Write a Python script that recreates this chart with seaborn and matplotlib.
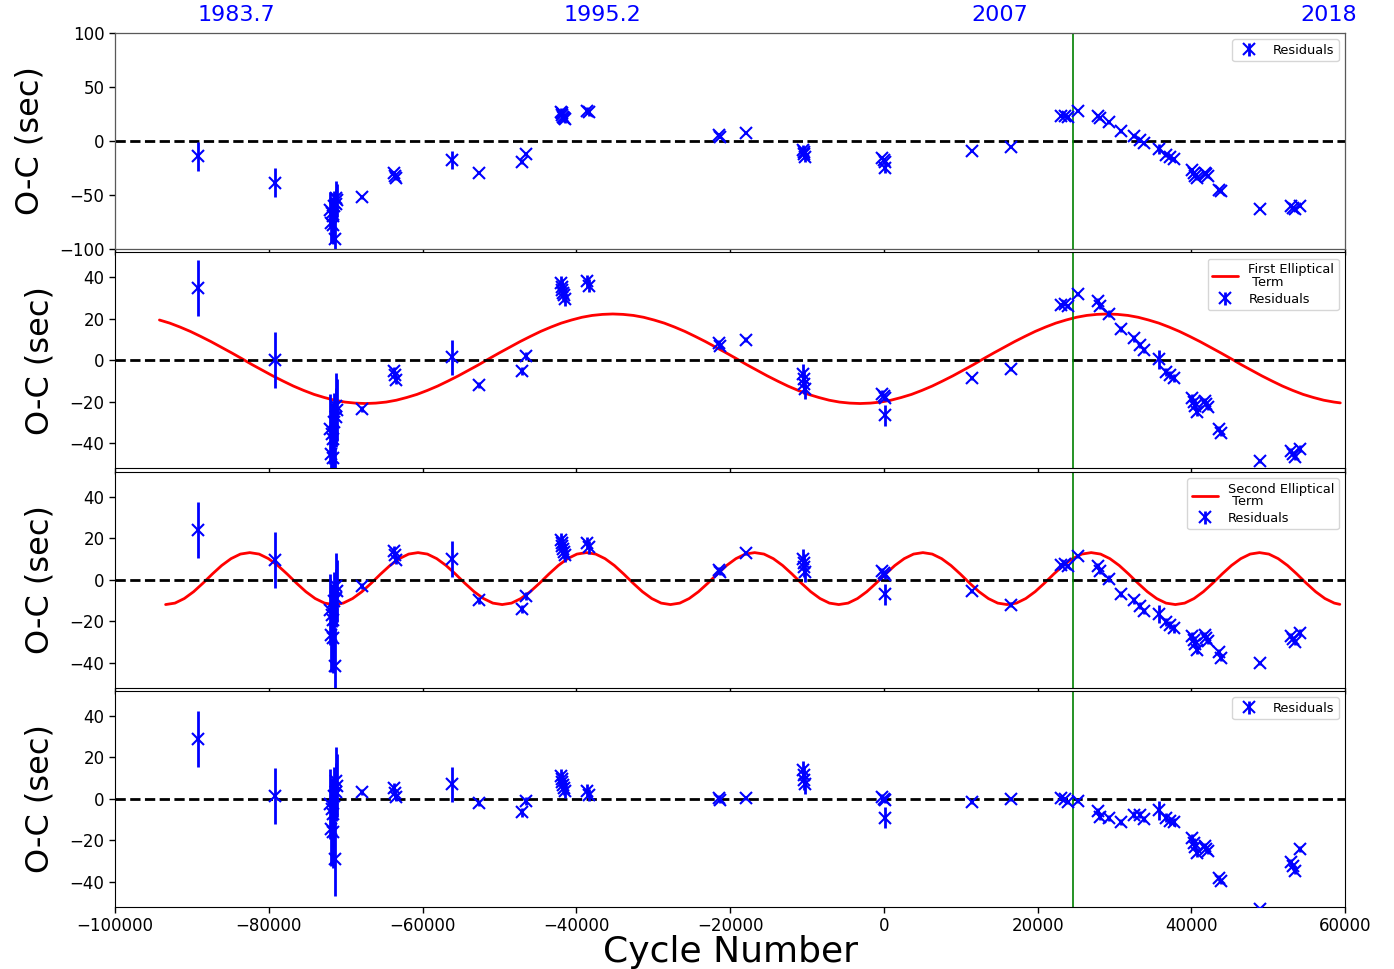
import numpy as np
import pandas as pd
import seaborn as sns
import matplotlib
matplotlib.use('Agg')
import matplotlib.pyplot as plt

# cycle numbers of the timings
cycle = [-89200, -79200,
         -72000, -71900, -71800, -71700, -71600, -71500, -71400, -71300, -71200, -71100,
         -67900, -63700, -63600, -63500, -56200, -52600, -47100, -46500,
         -42000, -41900, -41800, -41700, -41600, -41500, -38600, -38400,
         -21500, -21300, -17950, -10500, -10400, -10350, -10300,
         -200, 0, 100, 200, 11450, 16520,
         23000, 23500, 24000, 25300, 27800, 28100, 29270, 30900, 32580, 33300, 33800,
         35840, 36700, 37200, 37700, 40100, 40300, 40500, 40700, 41700, 41900, 42100,
         43600, 43900, 48880, 52900, 53200, 53500, 54140]

# O-C residuals (sec), one list per panel
oc_raw = [-14, -38.5,
          -64, -76, -66.5, -69, -78, -60.5, -91, -58.5, -53, -55,
          -52, -30, -32, -34, -17.5, -29.5, -19, -12,
          27, 25.5, 24, 22.5, 21.5, 20, 28, 26.5,
          6, 4, 7.5, -8, -10, -12.5, -14.5,
          -15.5, -17.5, -19, -25, -9, -5.5,
          23, 23.5, 22.5, 28, 23, 21, 17.5, 9, 4.5, 1, -1.5,
          -7.5, -13, -15, -16.5, -27, -30, -32, -34, -29.5, -31, -32.5,
          -45, -46.5, -63, -60.5, -62, -63, -60]

oc_res1 = [35, 0,
           -33, -45, -35.5, -38, -47, -29.5, -60, -27.5, -22, -24,
           -23.5, -5, -7, -9.5, 1.5, -12, -5, 2,
           37, 35.5, 34, 32.5, 31.5, 29.5, 38, 36,
           8.5, 7, 10, -6.5, -9, -11.5, -14,
           -16, -17, -18, -26.5, -8.5, -4.3,
           26.5, 27, 26, 32, 28.5, 26, 22.5, 15, 10.5, 7.5, 5,
           0.5, -5.5, -7, -8.5, -18, -20, -22, -25, -19.5, -21, -22.5,
           -33, -35, -48.5, -43.5, -45, -46.5, -42.5]

oc_res2 = [24, 9.5,
           -14.5, -26.5, -17, -19.5, -28, -10.5, -41.5, -9, -3, -5.5,
           -3, 14, 12, 9.5, 10, -10, -14, -8,
           19, 17.5, 16, 14.5, 13.5, 12, 17.5, 15.5,
           4.5, 3.5, 13, 10, 8, 6, 3.5,
           4, 3, 2, -7, -5.5, -12,
           7, 7.5, 6.5, 11.5, 6.5, 4, 0.5, -7, -10, -12.5, -15,
           -16.5, -20.5, -22, -23.5, -27, -29, -31, -34, -26.5, -28, -29.5,
           -35, -37.5, -40, -27, -28.5, -30, -25.5]

oc_res3 = [29, 1.5,
           -2.4, -14.4, -4.8, -7.2, -16, 1.6, -28.8, 3.2, 8.8, 6.4,
           3.5, 5.5, 3, 1, 7, -2, -6.5, -1,
           11, 9.5, 8, 6.5, 5.5, 4, 4, 2,
           0.5, -0.5, 0.3, 14, 11.5, 9, 7,
           1, 0, -0.5, -9, -1.5, 0,
           0.5, 0, -1.5, -0.8, -6, -8.5, -9, -11, -7.5, -7.5, -9.5,
           -5.5, -9, -10.5, -11, -19, -21, -23, -26, -22.5, -24, -25,
           -38, -39.5, -53, -30.5, -32.5, -34.5, -24]

oc_err = [13.5, 13.5,
          17, 18, 15, 16, 17, 14, 18, 14, 16, 15,
          1.5, 2, 2, 2, 8.5, 1.5, 2, 2,
          3.5, 3.5, 3.5, 3.5, 3.5, 3.5, 3, 3,
          1.5, 1.5, 1, 4.5, 4.5, 4.5, 4.5,
          1.5, 1.5, 1.5, 5, 1, 1,
          1, 1, 1, 1, 1.5, 1.5, 1.5, 1.5, 1.5, 1.5, 1.5,
          4.5, 2, 2, 2, 2, 2, 2, 2, 1.5, 1.5, 1.5,
          1.5, 1.5, 1, 1.5, 1.5, 1.5, 1.5]

# first elliptical term
ell1_cycle = [-94220, -92880, -91540, -90200, -88860, -87520, -86180, -84840, -83500, -82160,
              -80820, -79480, -78140, -76800, -75460, -74120, -72780, -71440, -70100, -68760,
              -67420, -66080, -64740, -63400, -62060, -60720, -59380, -58040, -56700, -55360,
              -54020, -52680, -51340, -50000, -48660, -47320, -45980, -44640, -43300, -41960,
              -40620, -39280, -37940, -36600, -35260, -33920, -32580, -31240, -29900, -28560,
              -27220, -25880, -24540, -23200, -21860, -20520, -19180, -17840, -16500, -15160,
              -13820, -12480, -11140, -9800, -8460, -7120, -5780, -4440, -3100, -1760,
              -420, 920, 2260, 3600, 4940, 6280, 7620, 8960, 10300, 11640,
              12980, 14320, 15660, 17000, 18340, 19680, 21020, 22360, 23700, 25040,
              26380, 27720, 29060, 30400, 31740, 33080, 34420, 35760, 37100, 38440,
              39780, 41120, 42460, 43800, 45140, 46480, 47820, 49160, 50500, 51840,
              53180, 54520, 55860, 57200, 58540, 59360]
ell1_oc = [19.4, 17.9, 16.0, 13.9, 11.5, 9.0, 6.3, 3.6,
           0.8, -2.1, -4.8, -7.5, -10.0, -12.4, -14.5, -16.4,
           -17.9, -19.2, -20.1, -20.6, -20.8, -20.6, -20.1, -19.2,
           -17.9, -16.4, -14.5, -12.4, -10.0, -7.5, -4.8, -2.1,
           0.8, 3.6, 6.3, 9.0, 11.5, 13.9, 16.0, 17.9,
           19.4, 20.7, 21.6, 22.1, 22.3, 22.1, 21.6, 20.7,
           19.4, 17.9, 16.0, 13.9, 11.5, 9.0, 6.3, 3.6,
           0.8, -2.1, -4.8, -7.5, -10.0, -12.4, -14.5, -16.4,
           -17.9, -19.2, -20.1, -20.6, -20.8, -20.6, -20.1, -19.2,
           -17.9, -16.4, -14.5, -12.4, -10.0, -7.5, -4.8, -2.1,
           0.8, 3.6, 6.3, 9.0, 11.5, 13.9, 16.0, 17.9,
           19.4, 20.7, 21.6, 22.1, 22.3, 22.1, 21.6, 20.7,
           19.4, 17.9, 16.0, 13.9, 11.5, 9.0, 6.3, 3.6,
           0.8, -2.1, -4.8, -7.5, -10.0, -12.4, -14.5, -16.4,
           -17.9, -19.2, -20.1, -20.5]

# second elliptical term
ell2_cycle = [-93420, -92204, -90988, -89772, -88556, -87340, -86124, -84908, -83692, -82476,
              -81260, -80044, -78828, -77612, -76396, -75180, -73964, -72748, -71532, -70316,
              -69100, -67884, -66668, -65452, -64236, -63020, -61804, -60588, -59372, -58156,
              -56940, -55724, -54508, -53292, -52076, -50860, -49644, -48428, -47212, -45996,
              -44780, -43564, -42348, -41132, -39916, -38700, -37484, -36268, -35052, -33836,
              -32620, -31404, -30188, -28972, -27756, -26540, -25324, -24108, -22892, -21676,
              -20460, -19244, -18028, -16812, -15596, -14380, -13164, -11948, -10732, -9516,
              -8300, -7084, -5868, -4652, -3436, -2220, -1004, 212, 1428, 2644,
              3860, 5076, 6292, 7508, 8724, 9940, 11156, 12372, 13588, 14804,
              16020, 17236, 18452, 19668, 20884, 22100, 23316, 24532, 25748, 26964,
              28180, 29396, 30612, 31828, 33044, 34260, 35476, 36692, 37908, 39124,
              40340, 41556, 42772, 43988, 45204, 46420, 47636, 48852, 50068, 51284,
              52500, 53716, 54932, 56148, 57364, 58580, 59300]
ell2_oc = [-12.0, -11.3, -9.1, -5.8, -1.7, 2.7, 6.8, 10.1, 12.3, 13.0, 12.3, 10.1, 6.8, 2.7, -1.7, -5.8, -9.1, -11.3,
           -12.0, -11.3, -9.1, -5.8, -1.7, 2.7, 6.8, 10.1, 12.3, 13.0, 12.3, 10.1, 6.8, 2.7, -1.7, -5.8, -9.1, -11.3,
           -12.0, -11.3, -9.1, -5.8, -1.7, 2.7, 6.8, 10.1, 12.3, 13.0, 12.3, 10.1, 6.8, 2.7, -1.7, -5.8, -9.1, -11.3,
           -12.0, -11.3, -9.1, -5.8, -1.7, 2.7, 6.8, 10.1, 12.3, 13.0, 12.3, 10.1, 6.8, 2.7, -1.7, -5.8, -9.1, -11.3,
           -12.0, -11.3, -9.1, -5.8, -1.7, 2.7, 6.8, 10.1, 12.3, 13.0, 12.3, 10.1, 6.8, 2.7, -1.7, -5.8, -9.1, -11.3,
           -12.0, -11.3, -9.1, -5.8, -1.7, 2.7, 6.8, 10.1, 12.3, 13.0, 12.3, 10.1, 6.8, 2.7, -1.7, -5.8, -9.1, -11.3,
           -12.0, -11.3, -9.1, -5.8, -1.7, 2.7, 6.8, 10.1, 12.3, 13.0, 12.3, 10.1, 6.8, 2.7, -1.7, -5.8, -9.1, -11.3,
           -11.9]

# calendar years on the top axis
year_cycle = [-84160, -36550, 15090, 57890]
year_labels = ['1983.7', '1995.2', '2007', '2018']

marker_cycle = 24600

sns.set_style('ticks')
plt.rcParams['font.family'] = ['DejaVu Sans']
plt.rcParams['text.color'] = 'black'
plt.rcParams['axes.labelcolor'] = 'black'
plt.rcParams['xtick.color'] = 'black'
plt.rcParams['ytick.color'] = 'black'

fig, axes = plt.subplots(4, 1, figsize=(13.94, 9.69), dpi=100, sharex=True)
fig.subplots_adjust(left=0.0825, right=0.965, top=0.966, bottom=0.064, hspace=0.015)

panels = [oc_raw, oc_res1, oc_res2, oc_res3]
curves = [None, (ell1_cycle, ell1_oc, 'First Elliptical\n Term'),
          (ell2_cycle, ell2_oc, 'Second Elliptical\n Term'), None]

for ax, oc, crv in zip(axes, panels, curves):
    if crv is not None:
        sns.lineplot(x=crv[0], y=crv[1], ax=ax, color='red', lw=2,
                     label=crv[2], sort=False, estimator=None)
    ax.errorbar(cycle, oc, yerr=oc_err, fmt='x', color='blue', ecolor='blue',
                ms=8, mew=1.5, elinewidth=2, capsize=0, label='Residuals', zorder=3)
    ax.axhline(0, color='black', ls='--', lw=2)
    ax.axvline(marker_cycle, color='green', lw=1.2)
    ax.set_ylabel('O-C (sec)', fontsize=23, labelpad=10)
    ax.set_ylim(-52, 52)
    ax.set_yticks([-40, -20, 0, 20, 40])
    ax.tick_params(labelsize=12, length=4, width=1, direction='out')
    for s in ax.spines.values():
        s.set_color('black')
    leg = ax.legend(loc='upper right', fontsize=9.3, frameon=True, fancybox=True,
                    framealpha=0.8, edgecolor='0.8', labelspacing=0.3,
                    borderpad=0.35, handletextpad=0.8)
    for t in leg.get_texts():
        t.set_linespacing(0.95)

axes[0].set_ylim(-100, 100)
axes[0].set_yticks([-100, -50, 0, 50, 100])
axes[-1].set_xlim(-100000, 60000)
axes[-1].set_xlabel('Cycle Number', fontsize=26, labelpad=0)

top = axes[0].twiny()
top.set_xlim(axes[0].get_xlim())
top.set_xticks(year_cycle)
top.set_xticklabels(year_labels)
top.tick_params(axis='x', length=0, pad=6, labelsize=16, labelcolor='blue')
for s in top.spines.values():
    s.set_color('0.35')

fig.savefig('out.png', dpi=100)
